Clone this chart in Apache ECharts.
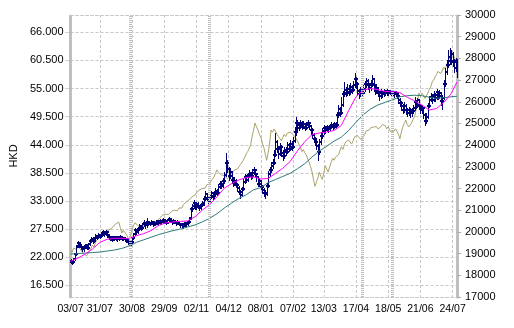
<!DOCTYPE html>
<html>
<head>
<meta charset="utf-8">
<script src="https://cdn.jsdelivr.net/npm/echarts@6/dist/echarts.min.js"></script>
<style>
  html, body { margin: 0; padding: 0; background: #fff; }
  #chart { width: 514px; height: 328px; }
</style>
</head>
<body>
<div id="chart"></div>
<script>
// Trading calendar: weekdays from the first session, skipping exchange holidays
const firstSession = [2006, 6, 3];
const sessionCount = 265;
const holidays = ['2006-10-02', '2006-10-30', '2006-12-25', '2006-12-26', '2007-01-01',
  '2007-02-19', '2007-02-20', '2007-02-21', '2007-04-05', '2007-04-06', '2007-04-09',
  '2007-05-01', '2007-05-24', '2007-06-19', '2007-07-02'];

// Dates that carry an axis label / grid line
const tickDates = ['2006-07-03', '2006-07-31', '2006-08-30', '2006-09-29', '2006-11-02',
  '2006-12-04', '2007-01-08', '2007-02-07', '2007-03-13', '2007-04-17', '2007-05-18',
  '2007-06-21', '2007-07-24'];

// Sessions marked by a heavy vertical rule
const markerDates = ['2006-08-29', '2006-11-15', '2007-04-23', '2007-05-23'];

// Left axis tick values (HKD)
const priceTicks = [16.5, 22, 27.5, 33, 38.5, 44, 49.5, 55, 60.5, 66];

// Daily prices (HKD)
const opens = [
  21.0,21.3,21.1,21.7,22.7,24.1,24.7,24.3,23.9,23.5,
  24.0,24.3,23.8,24.6,25.2,25.6,25.1,25.8,26.2,25.9,
  26.4,26.1,26.6,27.0,26.5,26.9,26.3,25.9,25.7,25.4,
  25.9,25.6,25.9,25.5,25.8,26.0,25.6,25.8,25.5,25.3,
  24.9,24.6,25.0,25.7,26.5,27.4,26.9,27.6,28.1,27.7,
  28.4,28.7,28.2,28.9,28.5,28.6,28.9,28.4,28.7,28.5,
  29.0,28.6,29.1,28.8,29.3,29.0,28.7,29.2,29.5,29.0,
  28.8,29.1,28.9,28.6,28.9,28.5,28.2,28.4,28.1,28.6,
  28.4,28.8,29.6,31.4,32.0,32.6,31.8,32.4,32.0,31.7,
  32.2,32.6,33.4,34.3,33.6,33.0,33.8,34.5,33.9,34.4,
  35.0,34.6,35.8,36.4,36.0,36.9,38.0,40.5,39.2,37.8,
  38.6,37.2,36.5,37.0,36.2,35.5,34.8,34.2,35.3,36.8,
  37.6,37.2,38.0,38.4,37.8,38.5,39.0,38.2,37.6,36.4,
  36.9,35.8,35.2,34.6,34.3,36.0,38.2,39.0,39.8,40.5,
  42.0,44.5,43.2,42.2,43.5,42.4,41.8,43.0,42.6,43.9,
  43.2,44.2,43.6,44.8,46.5,48.3,47.2,47.8,48.2,47.5,
  48.0,47.3,47.8,48.3,47.6,46.8,46.0,45.2,44.6,43.8,
  42.5,44.5,45.8,46.6,47.2,46.9,47.4,47.0,47.6,47.9,
  47.5,48.0,47.8,49.8,51.0,50.2,51.8,53.9,54.8,54.2,
  55.0,54.4,55.3,54.8,55.6,56.8,55.9,54.6,54.0,54.8,
  54.2,55.0,55.8,56.5,55.7,55.1,55.8,56.8,55.6,54.6,
  55.2,54.1,53.6,54.3,53.9,54.4,54.1,54.5,54.2,54.4,
  54.0,54.3,53.9,54.2,53.6,52.8,52.2,51.5,50.9,51.6,
  50.8,50.3,50.9,50.2,50.6,51.2,52.4,51.8,52.7,51.6,
  50.8,51.2,49.8,48.6,49.5,51.6,52.8,53.4,52.7,53.8,
  53.2,54.3,53.6,54.1,52.6,53.2,55.8,58.2,59.6,61.2,
  60.3,61.8,60.2,59.0,60.4
];
const highs = [
  21.6,21.5,21.9,22.9,24.3,25.1,24.9,24.5,24.1,24.3,
  24.6,24.4,24.7,25.5,25.9,25.7,26.0,26.5,26.4,26.7,
  26.6,26.9,27.3,27.1,27.4,27.0,26.4,26.1,25.8,26.2,
  26.0,26.2,26.0,26.1,26.3,26.1,26.0,25.9,25.7,25.4,
  25.1,25.3,26.0,26.8,27.8,27.6,27.9,28.5,28.3,28.7,
  29.2,28.9,29.6,29.1,28.9,29.3,29.0,29.0,28.9,29.3,
  29.1,29.4,29.3,29.6,29.5,29.2,29.5,29.8,29.6,29.2,
  29.4,29.3,29.0,29.2,29.0,28.7,28.7,28.5,28.9,28.8,
  29.1,29.9,31.8,32.5,33.1,32.8,32.8,32.7,32.3,32.6,
  33.0,34.0,35.0,34.6,33.9,34.3,35.0,34.8,34.9,35.5,
  35.3,36.3,37.0,36.9,37.4,38.6,42.3,41.0,39.6,39.4,
  38.9,37.6,37.6,37.3,36.5,35.9,35.2,35.8,37.3,38.2,
  38.0,38.5,39.0,38.7,39.2,39.6,39.3,38.5,37.9,37.5,
  37.2,36.2,35.6,35.2,36.5,38.8,39.7,40.6,41.3,42.9,
  46.4,45.0,43.8,44.3,43.9,42.9,43.6,43.5,44.6,44.4,
  45.0,44.8,45.5,47.4,49.4,48.8,48.5,48.8,48.6,48.7,
  48.3,48.4,48.9,48.5,47.9,47.2,46.4,45.5,45.0,44.2,
  45.2,46.5,47.3,47.8,47.6,47.9,47.7,48.1,48.4,48.2,
  48.5,48.4,50.4,51.8,51.4,53.3,54.6,56.2,55.4,55.8,
  55.6,56.0,55.7,56.4,58.0,57.3,56.2,55.0,55.3,55.2,
  55.7,56.5,57.1,56.8,56.1,56.6,57.6,57.1,55.9,55.8,
  55.4,54.5,54.9,54.6,54.9,54.7,54.9,54.8,54.8,54.6,
  54.8,54.6,54.6,54.4,53.9,53.2,52.6,51.9,52.3,51.9,
  51.2,51.4,51.2,51.1,51.8,53.3,52.8,53.2,52.9,52.0,
  51.8,51.4,50.2,50.2,52.2,53.5,54.2,53.9,54.5,54.2,
  55.0,54.6,54.8,54.3,53.8,56.6,59.0,60.5,62.5,63.0,
  62.6,62.2,60.8,61.0,60.8
];
const lows = [
  20.8,20.7,20.9,21.5,22.5,23.9,24.0,23.6,23.2,23.3,
  23.8,23.5,23.6,24.4,25.0,24.8,25.0,25.6,25.6,25.7,
  25.8,26.0,26.4,26.2,26.3,26.0,25.6,25.4,25.1,25.3,
  25.3,25.4,25.2,25.3,25.6,25.3,25.4,25.2,25.0,24.6,
  24.3,24.4,24.8,25.5,26.3,26.6,26.7,27.4,27.3,27.5,
  28.1,27.8,28.0,28.2,28.2,28.4,28.1,28.2,28.2,28.4,
  28.3,28.5,28.5,28.7,28.7,28.4,28.6,29.0,28.8,28.5,
  28.6,28.6,28.3,28.4,28.2,27.9,28.0,27.8,27.9,28.1,
  28.2,28.7,29.4,31.1,31.7,31.4,31.5,31.6,31.2,31.4,
  32.0,32.3,33.1,33.2,32.6,32.8,33.5,33.4,33.6,34.1,
  34.2,34.4,35.5,35.6,35.8,36.6,37.8,38.6,37.2,37.5,
  36.8,36.0,36.1,35.8,35.0,34.3,33.6,33.9,35.1,36.5,
  36.8,36.9,37.6,37.3,37.5,38.2,37.8,37.0,36.0,35.9,
  35.3,34.6,34.0,33.6,34.1,35.8,37.8,38.6,39.4,40.2,
  41.8,42.6,41.5,41.9,41.8,41.0,41.5,42.0,42.3,42.7,
  42.9,43.0,43.3,44.6,46.0,46.6,46.8,47.3,47.0,47.2,
  46.8,47.0,47.4,47.0,46.2,45.4,44.6,43.9,43.2,41.0,
  42.2,44.2,45.4,46.2,46.4,46.6,46.5,46.8,47.2,47.0,
  47.2,47.3,47.6,49.5,49.6,50.0,51.5,53.5,53.6,53.8,
  53.8,54.0,54.1,54.5,55.3,55.2,54.0,53.2,53.6,53.5,
  53.9,54.6,55.4,55.0,54.4,54.8,55.5,55.0,53.9,54.2,
  53.5,52.8,53.2,53.3,53.6,53.7,53.8,53.8,53.9,53.6,
  53.7,53.4,53.5,53.1,52.2,51.6,50.9,50.2,50.5,50.1,
  49.6,49.8,49.5,49.7,50.2,50.9,51.2,51.4,51.0,50.2,
  50.3,49.2,47.8,48.2,49.3,51.3,52.5,52.2,52.5,52.6,
  53.0,53.0,53.2,51.8,51.0,53.0,55.5,57.8,59.2,59.8,
  59.9,59.5,58.3,58.5,57.2
];
const closes = [
  21.3,21.0,21.6,22.6,24.0,24.7,24.4,23.9,23.5,24.0,
  24.3,23.8,24.5,25.2,25.6,25.1,25.8,26.2,25.9,26.4,
  26.1,26.6,27.0,26.5,26.9,26.3,25.9,25.7,25.4,25.9,
  25.6,25.9,25.5,25.8,26.0,25.6,25.8,25.5,25.3,24.9,
  24.6,25.0,25.7,26.5,27.4,26.9,27.6,28.1,27.7,28.4,
  28.7,28.2,28.9,28.5,28.6,28.9,28.4,28.7,28.5,29.0,
  28.6,29.1,28.8,29.3,29.0,28.7,29.2,29.5,29.0,28.8,
  29.1,28.9,28.6,28.9,28.5,28.2,28.4,28.1,28.6,28.4,
  28.8,29.5,31.4,32.0,32.6,31.8,32.4,32.0,31.7,32.2,
  32.6,33.4,34.3,33.6,33.0,33.8,34.5,33.9,34.4,35.0,
  34.6,35.8,36.4,36.0,36.9,38.0,40.5,39.2,37.8,38.6,
  37.2,36.5,37.0,36.2,35.5,34.8,34.2,35.3,36.8,37.6,
  37.2,38.0,38.4,37.8,38.5,39.0,38.2,37.6,36.4,36.9,
  35.8,35.2,34.6,34.3,36.0,38.2,39.0,39.8,40.5,42.0,
  44.5,43.2,42.2,43.5,42.4,41.8,43.0,42.6,43.9,43.2,
  44.2,43.6,44.8,46.5,48.3,47.2,47.8,48.2,47.5,48.0,
  47.3,47.8,48.3,47.6,46.8,46.0,45.2,44.6,43.8,42.5,
  44.5,45.8,46.6,47.2,46.9,47.4,47.0,47.6,47.9,47.5,
  48.0,47.8,49.8,51.0,50.2,51.8,53.9,54.8,54.2,55.0,
  54.4,55.3,54.8,55.6,56.8,55.9,54.6,54.0,54.8,54.2,
  55.0,55.8,56.5,55.7,55.1,55.8,56.8,55.6,54.6,55.2,
  54.1,53.6,54.3,53.9,54.4,54.1,54.5,54.2,54.4,54.0,
  54.3,53.9,54.2,53.6,52.8,52.2,51.5,50.9,51.6,50.8,
  50.3,50.9,50.2,50.6,51.2,52.4,51.8,52.7,51.6,50.8,
  51.2,49.8,48.6,49.5,51.6,52.8,53.4,52.7,53.8,53.2,
  54.3,53.6,54.1,52.6,53.2,55.8,58.2,59.6,61.2,60.3,
  61.8,60.2,59.0,60.4,57.6
];

// Moving averages as [session index, HKD]
const ma20Points = [
  [0,21.2],[5,21.8],[10,22.6],[15,23.6],[20,24.9],[25,25.5],[30,25.7],[35,25.7],[40,25.6],
  [45,26.2],[50,26.6],[55,27.2],[60,28.2],[65,28.7],[70,28.9],[75,29.0],[80,29.1],[85,29.9],
  [90,31.2],[95,32.3],[100,33.8],[105,35.5],[110,36.4],[115,37.1],[120,37.6],[125,37.7],
  [130,37.3],[135,37.4],[140,38.4],[145,39.4],[150,40.7],[155,42.8],[160,44.6],[165,46.0],
  [170,46.3],[175,46.5],[180,46.8],[185,47.8],[190,50.7],[195,53.4],[200,54.7],[205,55.0],
  [210,54.8],[215,54.4],[220,54.5],[225,54.2],[230,53.3],[235,52.6],[240,51.8],[245,50.8],
  [250,51.1],[255,52.3],[260,54.0],[264,56.3]
];
const ma50Points = [
  [0,22.6],[5,22.7],[10,22.8],[15,22.9],[20,23.0],[25,23.2],[30,23.4],[35,23.7],[40,24.2],
  [45,24.9],[50,25.4],[55,25.9],[60,26.4],[65,26.8],[70,27.2],[75,27.5],[80,27.9],[85,28.3],
  [90,28.9],[95,29.6],[100,30.5],[105,31.6],[110,32.6],[115,33.5],[120,34.2],[125,35.2],
  [130,35.6],[135,36.6],[140,37.2],[145,37.8],[150,38.4],[155,39.3],[160,40.3],[165,41.6],
  [170,42.8],[175,43.7],[180,44.7],[185,45.5],[190,46.8],[195,48.4],[200,49.9],[205,51.0],
  [210,51.8],[215,52.3],[220,52.8],[225,53.4],[230,53.6],[235,53.7],[240,53.6],[245,53.3],
  [250,53.1],[255,53.2],[260,53.4],[264,53.5]
];

// Comparison index (right axis)
const indexLevels = [
  19170,19050,19250,19310,19200,19350,19400,19170,19080,18980,
  19050,18900,18980,19150,19250,19400,19300,19500,19620,19550,
  19770,19700,19860,19800,19950,20050,19980,20120,20080,20230,
  20300,20380,20420,20450,20200,19950,20080,20000,19900,19860,
  19630,19850,20100,20300,20420,20350,20300,20230,20180,20100,
  20250,20400,20350,20450,20400,20300,20380,20450,20420,20500,
  20580,20650,20600,20780,20700,20820,20750,20800,20880,20950,
  20900,21000,21050,20980,21100,21150,21100,21250,21320,21380,
  21300,21480,21550,21620,21580,21700,21800,21750,21940,21900,
  22000,22080,22020,22170,22250,22200,22350,22420,22530,22700,
  22860,22750,22700,22630,22550,22600,22520,22450,22490,22600,
  22700,22780,22860,22950,22900,23000,23100,23180,23300,23450,
  23600,23700,23780,24000,24380,24700,25020,24850,24700,24500,
  24350,24100,23900,23600,23300,23650,24100,24700,24600,24750,
  24650,24500,24400,24300,24200,24350,24500,24400,24550,24480,
  24600,24650,24500,24400,24330,24200,24050,23900,23700,23800,
  23650,23550,23500,23200,23000,22760,22400,22100,22170,22500,
  22760,22550,22420,22700,23050,22900,22760,23000,23200,23400,
  23300,23450,23400,23550,23500,23920,23800,24000,24150,24100,
  24240,24150,24050,24200,24380,24300,24450,24350,24300,24240,
  24400,24500,24650,24560,24700,24800,24750,24840,24930,24850,
  24750,24700,24850,24950,25020,24900,24750,24850,24700,24600,
  24560,24650,24750,24840,24500,24300,24600,24840,25000,25160,
  24950,24840,24900,25020,25200,25300,25620,26000,26400,26250,
  26400,26300,26150,26220,26400,26550,26680,26900,27000,27140,
  27250,27400,27470,27300,27250,27600,27500,27700,27930,28020,
  28150,28250,28100,27930,27830
];

function buildSessions() {
  const out = [];
  const d = new Date(Date.UTC(firstSession[0], firstSession[1], firstSession[2]));
  while (out.length < sessionCount) {
    const wd = d.getUTCDay();
    const s = d.toISOString().slice(0, 10);
    if (wd !== 0 && wd !== 6 && holidays.indexOf(s) < 0) out.push(s);
    d.setUTCDate(d.getUTCDate() + 1);
  }
  return out;
}
const sessions = buildSessions();
const ohlcRows = sessions.map((s, i) => [i, opens[i], highs[i], lows[i], closes[i]]);

const gridColor = '#c8c8c8';
const hatchColor = '#bcbcbc';
const barColor = '#000078';
const font = 'Arial, "Liberation Sans", sans-serif';
const isTick = (idx, val) => tickDates.indexOf(val) >= 0;

// OHLC bar: high-low stem, open tick to the left, close tick to the right
function renderBar(params, api) {
  const i = api.value(0);
  const o = api.coord([i, api.value(1)]);
  const h = api.coord([i, api.value(2)]);
  const l = api.coord([i, api.value(3)]);
  const c = api.coord([i, api.value(4)]);
  const stem = { stroke: barColor, lineWidth: 1 };
  const tick = { stroke: barColor, lineWidth: 2 };
  const x = Math.round(h[0]) + 0.5;
  const oy = Math.round(o[1]);
  const cy = Math.round(c[1]);
  return {
    type: 'group',
    children: [
      { type: 'line', shape: { x1: x, y1: Math.round(h[1]), x2: x, y2: Math.round(l[1]) + 1 }, style: stem },
      { type: 'line', shape: { x1: x - 2.5, y1: oy, x2: x, y2: oy }, style: tick },
      { type: 'line', shape: { x1: x, y1: cy, x2: x + 2.5, y2: cy }, style: tick }
    ]
  };
}

const chart = echarts.init(document.getElementById('chart'), null, { renderer: 'canvas' });
chart.setOption({
  animation: false,
  backgroundColor: '#ffffff',
  grid: { left: 68, right: 57, top: 15, bottom: 31 },
  xAxis: [{
    type: 'category',
    data: sessions,
    boundaryGap: false,
    axisLine: { lineStyle: { color: gridColor, type: [3, 2] } },
    axisTick: { show: false },
    axisLabel: {
      interval: isTick,
      formatter: v => v.slice(8, 10) + '/' + v.slice(5, 7),
      color: '#000', fontSize: 10.5, fontFamily: font, margin: 7
    },
    splitLine: { show: true, interval: isTick, lineStyle: { color: gridColor, type: [3, 2] } }
  }, {
    type: 'category',
    data: sessions,
    boundaryGap: false,
    position: 'top',
    axisLine: { lineStyle: { color: gridColor, type: [3, 2] } },
    axisTick: { show: false },
    axisLabel: { show: false },
    splitLine: { show: false }
  }],
  yAxis: [{
    type: 'value',
    min: 14.2,
    max: 69.4,
    position: 'left',
    name: 'HKD',
    nameLocation: 'middle',
    nameRotate: 90,
    nameGap: 42,
    nameTextStyle: { color: '#000', fontSize: 11, fontFamily: font },
    axisLine: { show: true, lineStyle: { color: hatchColor, width: 3, type: [1, 1] } },
    axisTick: { show: true, customValues: priceTicks, length: 6, lineStyle: { color: '#aaaaaa', type: [1, 1] } },
    axisLabel: { customValues: priceTicks, formatter: v => v.toFixed(3), color: '#000', fontSize: 11, fontFamily: font, margin: 7 },
    splitLine: { show: true, lineStyle: { color: gridColor, type: [3, 2] } }
  }, {
    type: 'value',
    min: 17000,
    max: 30000,
    interval: 1000,
    position: 'right',
    axisLine: { show: true, lineStyle: { color: hatchColor, width: 3, type: [1, 1] } },
    axisTick: { show: true, length: 4, lineStyle: { color: '#aaaaaa' } },
    axisLabel: { formatter: v => String(v), color: '#000', fontSize: 11, fontFamily: font, margin: 8 },
    splitLine: { show: false }
  }],
  series: [{
    name: 'Index',
    type: 'line',
    yAxisIndex: 1,
    data: indexLevels,
    showSymbol: false,
    lineStyle: { color: '#aaa26c', width: 1 },
    z: 1,
    markLine: {
      silent: true,
      symbol: 'none',
      label: { show: false },
      lineStyle: { color: hatchColor, width: 3, type: [1, 1] },
      data: markerDates.map(d => ({ xAxis: d }))
    }
  }, {
    name: 'Price',
    type: 'custom',
    data: ohlcRows,
    encode: { x: 0, y: [1, 2, 3, 4] },
    renderItem: renderBar,
    clip: true,
    z: 2
  }, {
    name: 'MA50',
    type: 'line',
    data: ma50Points,
    showSymbol: false,
    lineStyle: { color: '#2f7a78', width: 1 },
    z: 3
  }, {
    name: 'MA20',
    type: 'line',
    data: ma20Points,
    showSymbol: false,
    lineStyle: { color: '#ff00ff', width: 1 },
    z: 4
  }]
});
</script>
</body>
</html>
